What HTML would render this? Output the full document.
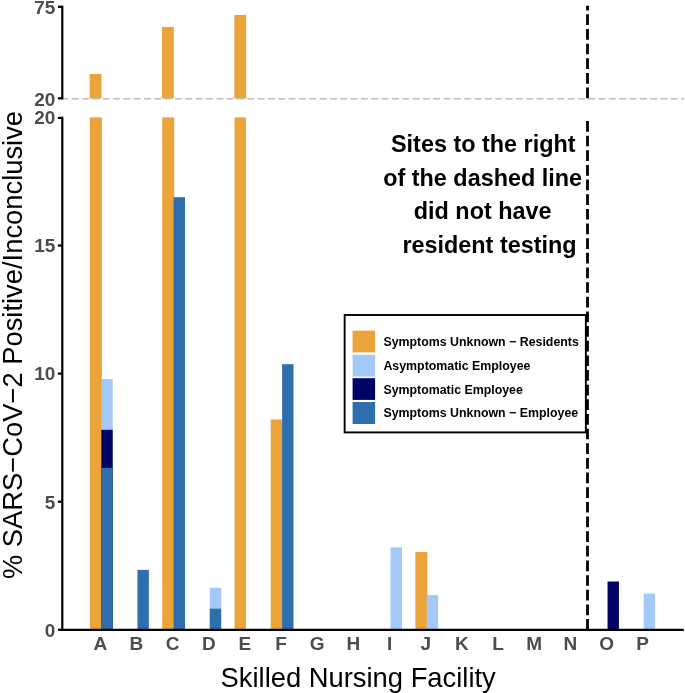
<!DOCTYPE html>
<html><head><meta charset="utf-8"><style>
html,body{margin:0;padding:0;background:#fff;}
svg{display:block;will-change:transform;}
text{font-family:"Liberation Sans",sans-serif;}
</style></head><body>
<svg width="685" height="693" viewBox="0 0 685 693">
<rect x="0" y="0" width="685" height="693" fill="#fff"/>
<g>
<rect x="89.90" y="117.40" width="12.00" height="512.40" fill="#EBA43A"/>
<rect x="162.22" y="117.40" width="12.00" height="512.40" fill="#EBA43A"/>
<rect x="234.54" y="117.40" width="11.40" height="512.40" fill="#EBA43A"/>
<rect x="270.70" y="419.50" width="12.00" height="210.30" fill="#EBA43A"/>
<rect x="415.34" y="552.00" width="12.00" height="77.80" fill="#EBA43A"/>
<rect x="89.70" y="74.00" width="11.80" height="24.70" fill="#EBA43A"/>
<rect x="162.02" y="26.90" width="11.80" height="71.80" fill="#EBA43A"/>
<rect x="234.34" y="14.90" width="11.80" height="83.80" fill="#EBA43A"/>
<rect x="101.30" y="379.10" width="11.40" height="250.70" fill="#A2C9F7"/>
<rect x="101.30" y="429.80" width="11.40" height="200.00" fill="#010463"/>
<rect x="101.30" y="467.80" width="11.40" height="162.00" fill="#2F6EAD"/>
<rect x="137.46" y="569.90" width="11.40" height="59.90" fill="#2F6EAD"/>
<rect x="173.62" y="197.20" width="11.40" height="432.60" fill="#2F6EAD"/>
<rect x="209.78" y="587.80" width="11.40" height="42.00" fill="#A2C9F7"/>
<rect x="209.78" y="608.70" width="11.40" height="21.10" fill="#2F6EAD"/>
<rect x="282.10" y="364.20" width="11.40" height="265.60" fill="#2F6EAD"/>
<rect x="390.58" y="547.30" width="11.40" height="82.50" fill="#A2C9F7"/>
<rect x="426.74" y="595.10" width="11.40" height="34.70" fill="#A2C9F7"/>
<rect x="607.54" y="581.50" width="11.40" height="48.30" fill="#010463"/>
<rect x="643.70" y="593.60" width="11.40" height="36.20" fill="#A2C9F7"/>
</g>
<line x1="61.37" y1="98.7" x2="683.8" y2="98.7" stroke="#BEBEBE" stroke-width="1.5" stroke-dasharray="6.95 3.38"/>
<line x1="587.5" y1="629.8" x2="587.5" y2="117.4" stroke="#000" stroke-width="2.8" stroke-dasharray="10.7 3.95"/>
<line x1="587.5" y1="98.3" x2="587.5" y2="5.8" stroke="#000" stroke-width="2.8" stroke-dasharray="10.7 3.95"/>
<g stroke="#000" stroke-width="2.2" fill="none">
<line x1="62.3" y1="5.7" x2="62.3" y2="99.4"/>
<line x1="62.3" y1="116.8" x2="62.3" y2="630.9"/>
<line x1="61.2" y1="629.8" x2="683.8" y2="629.8"/>
<line x1="57.9" y1="629.8" x2="62.3" y2="629.8"/>
<line x1="57.9" y1="501.7" x2="62.3" y2="501.7"/>
<line x1="57.9" y1="373.6" x2="62.3" y2="373.6"/>
<line x1="57.9" y1="245.5" x2="62.3" y2="245.5"/>
<line x1="57.9" y1="117.9" x2="62.3" y2="117.9"/>
<line x1="57.9" y1="6.8" x2="62.3" y2="6.8"/>
<line x1="57.9" y1="98.3" x2="62.3" y2="98.3"/>
</g>
<g font-weight="bold" font-size="19" fill="#4D4D4D">
<text x="55.3" y="636.60" text-anchor="end">0</text>
<text x="55.3" y="508.50" text-anchor="end">5</text>
<text x="55.3" y="380.40" text-anchor="end">10</text>
<text x="55.3" y="252.30" text-anchor="end">15</text>
<text x="55.3" y="124.10" text-anchor="end">20</text>
<text x="55.3" y="13.60" text-anchor="end">75</text>
<text x="55.3" y="105.70" text-anchor="end">20</text>
<text x="100.30" y="650.3" text-anchor="middle">A</text>
<text x="136.46" y="650.3" text-anchor="middle">B</text>
<text x="172.62" y="650.3" text-anchor="middle">C</text>
<text x="208.78" y="650.3" text-anchor="middle">D</text>
<text x="244.94" y="650.3" text-anchor="middle">E</text>
<text x="281.10" y="650.3" text-anchor="middle">F</text>
<text x="317.26" y="650.3" text-anchor="middle">G</text>
<text x="353.42" y="650.3" text-anchor="middle">H</text>
<text x="389.58" y="650.3" text-anchor="middle">I</text>
<text x="425.74" y="650.3" text-anchor="middle">J</text>
<text x="461.90" y="650.3" text-anchor="middle">K</text>
<text x="498.06" y="650.3" text-anchor="middle">L</text>
<text x="534.22" y="650.3" text-anchor="middle">M</text>
<text x="570.38" y="650.3" text-anchor="middle">N</text>
<text x="606.54" y="650.3" text-anchor="middle">O</text>
<text x="642.70" y="650.3" text-anchor="middle">P</text>
</g>
<text x="220.57" y="687.3" font-size="27.3" fill="#000" textLength="275.24" lengthAdjust="spacingAndGlyphs">Skilled Nursing Facility</text>
<text transform="translate(21.5,579.09) rotate(-90)" font-size="27.4" fill="#000" textLength="468.15" lengthAdjust="spacingAndGlyphs">% SARS−CoV−2 Positive/Inconclusive</text>
<g font-weight="bold" font-size="23.4" fill="#000">
<text x="391.0" y="152">Sites to the right</text>
<text x="383.2" y="185.6">of the dashed line</text>
<text x="413.8" y="219.1">did not have</text>
<text x="402.4" y="252.7">resident testing</text>
</g>
<rect x="344.65" y="315.0" width="241.2" height="117.4" fill="#fff" stroke="#000" stroke-width="1.9"/>
<g>
<rect x="352.6" y="330.6" width="22.5" height="21.8" fill="#EBA43A"/>
<rect x="352.6" y="354.7" width="22.5" height="21.8" fill="#A2C9F7"/>
<rect x="352.6" y="378.2" width="22.5" height="21.7" fill="#010463"/>
<rect x="352.6" y="402.0" width="22.5" height="22.0" fill="#2F6EAD"/>
</g>
<g font-weight="bold" font-size="12.37" fill="#000">
<text x="383.45" y="346">Symptoms Unknown − Residents</text>
<text x="383.45" y="369.8">Asymptomatic Employee</text>
<text x="383.45" y="393.6">Symptomatic Employee</text>
<text x="383.45" y="417.4">Symptoms Unknown − Employee</text>
</g>
</svg>
</body></html>
